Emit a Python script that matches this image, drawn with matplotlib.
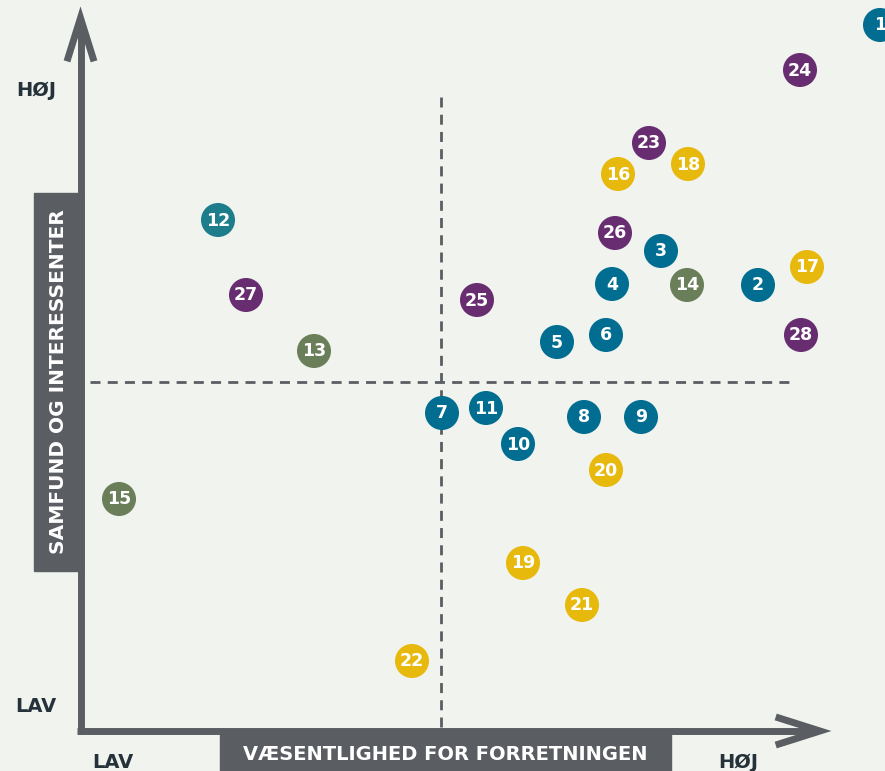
import matplotlib.pyplot as plt
from matplotlib.patches import Rectangle

# bubble positions (pixel-like grid, y grows downward)
ids = [1, 2, 3, 4, 5, 6, 7, 8, 9, 10, 11,
       12, 13, 14, 15,
       16, 17, 18, 19, 20, 21, 22,
       23, 24, 25, 26, 27, 28]
x_vals = [880, 758, 661, 612, 557, 606, 442, 584, 641, 518, 486,
          218, 314, 687, 119,
          618, 807, 688, 523, 606, 582, 412,
          649, 800, 477, 615, 246, 801]
y_vals = [25, 285, 251, 284, 342, 335, 413, 417, 417, 444, 408,
          220, 351, 285, 499,
          174, 267, 164, 563, 470, 605, 661,
          143, 70, 300, 233, 295, 335]
groups = ["blue"] * 11 + ["teal", "green", "green", "green"] + ["yellow"] * 7 + ["purple"] * 6

colors = {"blue": "#006d91", "teal": "#1e7d8a", "green": "#6b7e5a",
          "yellow": "#e8b90d", "purple": "#682d70"}

x_label = "VÆSENTLIGHED FOR FORRETNINGEN"
y_label = "SAMFUND OG INTERESSENTER"
low_label = "LAV"
high_label = "HØJ"

bg = "#f1f3ef"
dark = "#5a5d62"
txt = "#26323a"
plt.rcParams['font.family'] = ['DejaVu Sans']

fig = plt.figure(figsize=(8.85, 7.71), dpi=100)
fig.patch.set_facecolor(bg)
ax = fig.add_axes([0, 0, 1, 1])
ax.set_facecolor(bg)
ax.set_xlim(0, 885)
ax.set_ylim(771, 0)
ax.axis("off")

# dashed quadrant lines
ax.plot([90, 792], [382, 382], color=dark, lw=2, dashes=(3.6, 2.6), zorder=1)
ax.plot([441, 441], [97, 728], color=dark, lw=2, dashes=(3.6, 2.6), zorder=1)

# axes with arrows
ax.plot([80.5, 80.5], [734, 22], color=dark, lw=5, solid_capstyle="butt", zorder=2)
ax.plot([68, 80.5, 93], [58, 18, 58], color=dark, lw=5, solid_joinstyle="miter", zorder=2)
ax.plot([77, 816], [731, 731], color=dark, lw=5, solid_capstyle="butt", zorder=2)
ax.plot([779, 820, 779], [718, 731, 744], color=dark, lw=5, solid_joinstyle="miter", zorder=2)

# label boxes
ax.add_patch(Rectangle((34, 193), 49, 378, color=dark, zorder=2))
ax.text(58.5, 382, y_label, rotation=90, ha="center", va="center", color="white",
        fontsize=14.5, fontweight="bold", zorder=3)
ax.add_patch(Rectangle((220, 733), 451, 40, color=dark, zorder=2))
ax.text(445.5, 755, x_label, ha="center", va="center", color="white",
        fontsize=14, fontweight="bold", zorder=3)

# low / high labels
for lx, ly, lab in [(36, 90, high_label), (36, 706, low_label),
                    (113, 762, low_label), (738, 762, high_label)]:
    ax.text(lx, ly, lab, ha="center", va="center", color=txt, fontsize=14, fontweight="bold")

# bubbles
ax.scatter(x_vals, y_vals, s=600, c=[colors[g] for g in groups], linewidths=0, zorder=4)
for i, xv, yv in zip(ids, x_vals, y_vals):
    ax.text(xv, yv + 0.5, str(i), ha="center", va="center", color="white",
            fontsize=12.5, fontweight="bold", zorder=5)

fig.savefig("out.png", dpi=100, facecolor=bg)
